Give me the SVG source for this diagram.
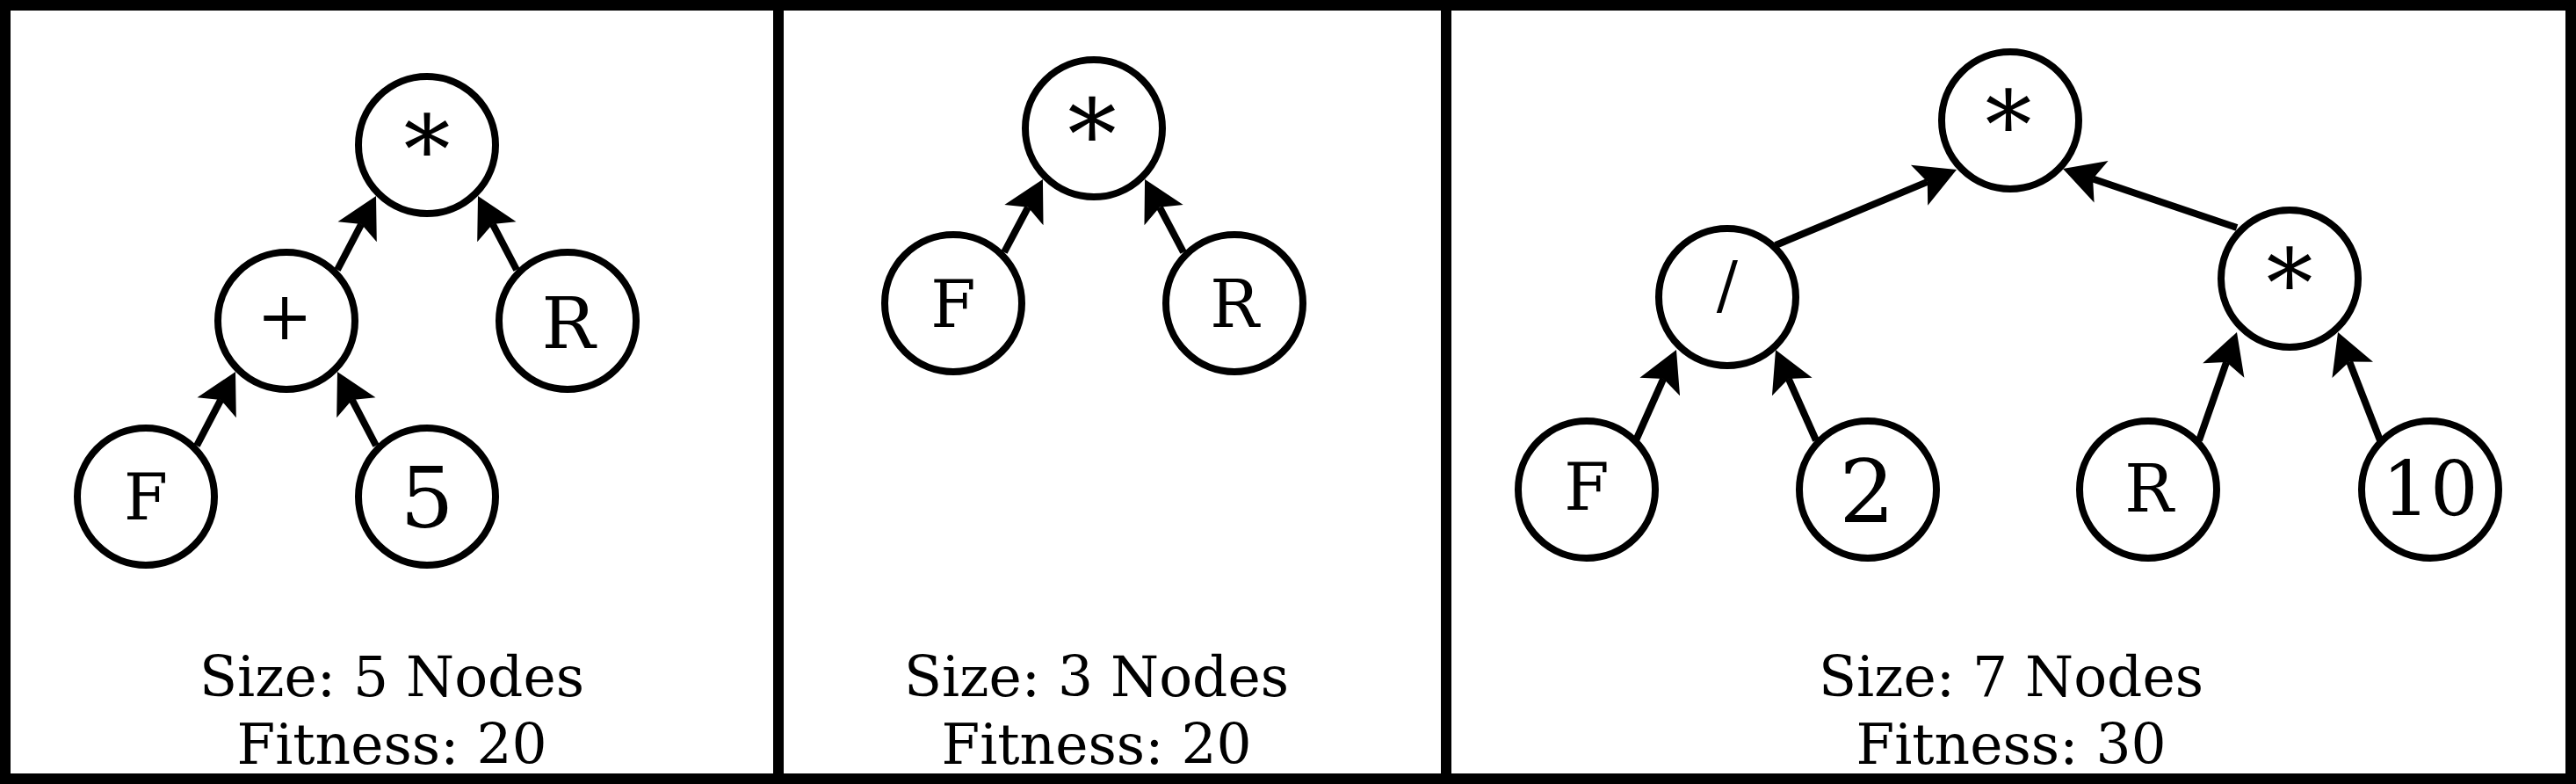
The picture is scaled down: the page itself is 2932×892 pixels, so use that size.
<svg xmlns="http://www.w3.org/2000/svg" width="2932" height="892" viewBox="0 0 2932 892">
<style>
.node circle{fill:#fff;stroke:#000;stroke-width:8}
.lbl{font-family:"DejaVu Serif","Liberation Serif",serif;text-anchor:middle;fill:#000}
.cap{font-family:"DejaVu Serif","Liberation Serif",serif;text-anchor:middle;fill:#000;font-size:63px}
.edge{stroke:#000;stroke-width:8;fill:none;marker-end:url(#arr)}
.frame{fill:none;stroke:#000;stroke-width:12}
</style>
<defs>
<marker id="arr" markerUnits="userSpaceOnUse" viewBox="-12 -27 50 54" markerWidth="50" markerHeight="54" refX="0" refY="0" orient="auto">
<path d="M36,0 L-10,-25 L0,0 L-10,25 Z" fill="#000"/>
</marker>
</defs>
<rect width="2932" height="892" fill="#fff"/>
<g id="frame">
<rect class="frame" x="6" y="6" width="2920" height="880"/>
<line x1="886" y1="0" x2="886" y2="892" stroke="#000" stroke-width="12"/>
<line x1="1646" y1="0" x2="1646" y2="892" stroke="#000" stroke-width="12"/>
</g>
<g id="connectors">
<path class="edge" d="M384,307 L411.3,254.9"/>
<path class="edge" d="M588,307 L560.7,254.9"/>
<path class="edge" d="M224,507 L251.3,454.9"/>
<path class="edge" d="M428,507 L400.7,454.9"/>
<path class="edge" d="M1143,287 L1170.1,235.8"/>
<path class="edge" d="M1347,287 L1319.9,235.8"/>
<path class="edge" d="M2021,279 L2193.8,206.9"/>
<path class="edge" d="M2546,259 L2382.1,203.5"/>
<path class="edge" d="M1862,501 L1893.3,430.9"/>
<path class="edge" d="M2067,501 L2035.7,430.9"/>
<path class="edge" d="M2503,501 L2534.1,412"/>
<path class="edge" d="M2709,501 L2674.1,411.5"/>
</g>
<g id="p1-root" class="node"><circle cx="486" cy="165" r="78"/><text class="lbl" x="486" y="208" font-size="106">*</text></g>
<g id="p1-plus" class="node"><circle cx="326" cy="365" r="78"/><text class="lbl" x="324" y="386" font-size="76">+</text></g>
<g id="p1-R" class="node"><circle cx="646" cy="365" r="78"/><text class="lbl" x="647" y="396" font-size="81">R</text></g>
<g id="p1-F" class="node"><circle cx="166" cy="565" r="78"/><text class="lbl" x="166" y="591" font-size="72">F</text></g>
<g id="p1-5" class="node"><circle cx="486" cy="565" r="78"/><text class="lbl" x="486" y="600" font-size="96">5</text></g>
<g id="p1-caption"><text class="cap" x="446" y="792">Size: 5 Nodes</text><text class="cap" x="446" y="869">Fitness: 20</text></g>
<g id="p2-root" class="node"><circle cx="1245" cy="146" r="78"/><text class="lbl" x="1243" y="192" font-size="111">*</text></g>
<g id="p2-F" class="node"><circle cx="1085" cy="345" r="78"/><text class="lbl" x="1085" y="372" font-size="74">F</text></g>
<g id="p2-R" class="node"><circle cx="1405" cy="345" r="78"/><text class="lbl" x="1405" y="372" font-size="74">R</text></g>
<g id="p2-caption"><text class="cap" x="1248" y="792">Size: 3 Nodes</text><text class="cap" x="1248" y="869">Fitness: 20</text></g>
<g id="p3-root" class="node"><circle cx="2288" cy="137" r="78"/><text class="lbl" x="2286" y="180" font-size="106">*</text></g>
<g id="p3-div" class="node"><circle cx="1966" cy="338" r="78"/><text class="lbl" x="1966" y="349" font-size="72">/</text></g>
<g id="p3-mul" class="node"><circle cx="2606" cy="317" r="78"/><text class="lbl" x="2606" y="360" font-size="106">*</text></g>
<g id="p3-F" class="node"><circle cx="1806" cy="557" r="78"/><text class="lbl" x="1806" y="580" font-size="74">F</text></g>
<g id="p3-2" class="node"><circle cx="2126" cy="557" r="78"/><text class="lbl" x="2125" y="594" font-size="100">2</text></g>
<g id="p3-R" class="node"><circle cx="2445" cy="557" r="78"/><text class="lbl" x="2446" y="582" font-size="74">R</text></g>
<g id="p3-10" class="node"><circle cx="2766" cy="557" r="78"/><text class="lbl" x="2766" y="586" font-size="86">10</text></g>
<g id="p3-caption"><text class="cap" x="2289" y="792">Size: 7 Nodes</text><text class="cap" x="2289" y="869">Fitness: 30</text></g>
</svg>
